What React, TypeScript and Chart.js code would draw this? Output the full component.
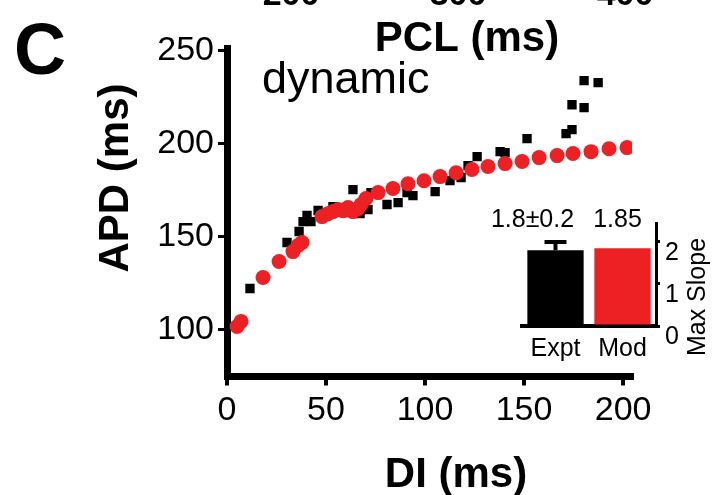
import React, { useEffect, useRef } from "react";
import { Chart, registerables } from "chart.js";

Chart.register(...registerables);

const FONT = "'Liberation Sans', Arial, Helvetica, sans-serif";
const RED = "rgb(237,32,36)";
const BLACK = "#000000";

// Model (red circles): DI (ms) vs APD (ms)
const modelDI = [5.1, 7.1, 18.2, 26.3, 33.3, 35.9, 37.9, 48.0, 51.0, 53.5, 56.1, 58.6, 61.1, 63.6, 66.2, 67.7, 70.2, 76.3, 83.8, 91.4, 99.5, 107.6, 115.7, 123.7, 131.8, 140.4, 149.0, 157.6, 166.7, 174.7, 183.8, 192.9, 202.0];
const modelAPD = [101.9, 104.6, 128.2, 136.8, 142.1, 145.4, 147.0, 160.9, 162.5, 163.6, 164.7, 164.1, 165.8, 163.6, 165.2, 167.4, 170.6, 173.8, 176.0, 178.6, 180.2, 182.4, 184.5, 186.2, 187.8, 189.4, 190.5, 192.6, 193.7, 194.8, 195.8, 197.4, 198.0];

// Experiment (black squares)
const exptDI = [11.6, 30.3, 36.4, 38.4, 40.4, 42.4, 46.0, 49.0, 53.5, 59.6, 63.6, 67.2, 71.2, 72.7, 80.8, 86.4, 90.9, 93.9, 105.1, 112.6, 118.2, 121.7, 126.3, 137.9, 140.4, 151.5, 171.2, 174.2, 174.2, 180.3, 180.3, 187.4];
const exptAPD = [122.3, 147.0, 152.9, 158.2, 161.5, 158.2, 164.2, 162.5, 166.3, 163.1, 175.4, 162.5, 164.7, 173.8, 167.4, 168.4, 173.8, 172.2, 174.3, 180.2, 181.9, 188.3, 193.1, 195.8, 195.3, 202.8, 205.5, 207.6, 221.0, 219.5, 234.0, 232.9];

const xTicks = [0, 50, 100, 150, 200];
const yTicks = [100, 150, 200, 250];
const xRange = [0, 204.5];
const yRange = [75, 251.5];
const topPanelTicks = ["200", "300", "400"];

// Inset: max slope
const slopeCategories = ["Expt", "Mod"];
const slopeValues = [1.8, 1.85];
const slopeErrors = [0.2, 0];
const slopeLabels = ["1.8±0.2", "1.85"];
const slopeTicks = [0, 1, 2];
const slopeRange = [0, 2.45];

const mainTextPlugin = {
  id: "mainText",
  afterDraw(chart: any) {
    const ctx = chart.ctx;
    ctx.save();
    ctx.fillStyle = "#000";
    ctx.textBaseline = "alphabetic";
    ctx.textAlign = "left";
    ctx.font = `bold 72px ${FONT}`;
    ctx.fillText("C", 14, 74);
    ctx.textAlign = "center";
    ctx.font = `bold 34px ${FONT}`;
    const topX = [291, 458, 625];
    topPanelTicks.forEach((t, i) => ctx.fillText(t, topX[i], 5));
    ctx.font = `bold 42px ${FONT}`;
    ctx.fillText("PCL (ms)", 467, 51);
    ctx.fillText("DI (ms)", 456, 487);
    ctx.textAlign = "left";
    ctx.font = `45px ${FONT}`;
    ctx.fillText("dynamic", 262, 93);
    ctx.translate(116, 178);
    ctx.rotate(-Math.PI / 2);
    ctx.textAlign = "center";
    ctx.textBaseline = "middle";
    ctx.font = `bold 42px ${FONT}`;
    ctx.fillText("APD (ms)", 0, 0);
    ctx.restore();
  },
};

const insetPlugin = {
  id: "insetExtras",
  afterDatasetsDraw(chart: any) {
    const ctx = chart.ctx;
    const meta = chart.getDatasetMeta(0);
    const ys = chart.scales.y;
    ctx.save();
    ctx.strokeStyle = "#000";
    ctx.lineWidth = 4;
    meta.data.forEach((bar: any, i: number) => {
      const err = slopeErrors[i];
      if (!err) return;
      const yTop = ys.getPixelForValue(slopeValues[i] + err);
      ctx.beginPath();
      ctx.moveTo(bar.x, bar.y);
      ctx.lineTo(bar.x, yTop);
      ctx.moveTo(bar.x - 11, yTop);
      ctx.lineTo(bar.x + 11, yTop);
      ctx.stroke();
    });
    ctx.fillStyle = "#000";
    ctx.font = `25px ${FONT}`;
    ctx.textAlign = "center";
    ctx.textBaseline = "alphabetic";
    const offs = [-23, -5];
    meta.data.forEach((bar: any, i: number) => {
      ctx.fillText(slopeLabels[i], bar.x + offs[i], chart.chartArea.top + 4);
    });
    ctx.translate(228, 117);
    ctx.rotate(-Math.PI / 2);
    ctx.textBaseline = "middle";
    ctx.fillText("Max Slope", 0, 0);
    ctx.restore();
  },
};

export default function App() {
  const mainRef = useRef<HTMLCanvasElement | null>(null);
  const insetRef = useRef<HTMLCanvasElement | null>(null);

  useEffect(() => {
    const main = new Chart(mainRef.current as HTMLCanvasElement, {
      type: "scatter",
      data: {
        datasets: [
          {
            label: "Mod",
            data: modelDI.map((x, i) => ({ x, y: modelAPD[i] })),
            pointStyle: "circle",
            pointRadius: 7.5,
            backgroundColor: RED,
            pointBackgroundColor: RED,
            borderWidth: 0,
            pointBorderWidth: 0,
            showLine: false,
          },
          {
            label: "Expt",
            data: exptDI.map((x, i) => ({ x, y: exptAPD[i] })),
            pointStyle: "rect",
            pointRadius: 6.6,
            backgroundColor: BLACK,
            pointBackgroundColor: BLACK,
            borderWidth: 0,
            pointBorderWidth: 0,
            showLine: false,
          },
        ],
      },
      options: {
        animation: false,
        responsive: false,
        events: [],
        layout: { padding: { left: 0, top: 48, right: 80, bottom: 0 } },
        plugins: { legend: { display: false }, tooltip: { enabled: false } },
        scales: {
          x: {
            type: "linear",
            position: "bottom",
            min: xRange[0],
            max: xRange[1],
            afterFit: (s: any) => {
              s.height = 118.5;
            },
            afterBuildTicks: (s: any) => {
              s.ticks = xTicks.map((v) => ({ value: v }));
            },
            grid: { drawOnChartArea: false, drawTicks: true, tickLength: 9, color: "#000", lineWidth: 4 },
            border: { display: true, color: "#000", width: 7 },
            ticks: { color: "#000", font: { family: FONT, size: 34 }, padding: 5, maxRotation: 0, autoSkip: false },
          },
          y: {
            type: "linear",
            position: "left",
            min: yRange[0],
            max: yRange[1],
            afterFit: (s: any) => {
              s.width = 227;
            },
            afterBuildTicks: (s: any) => {
              s.ticks = yTicks.map((v) => ({ value: v }));
            },
            grid: { drawOnChartArea: false, drawTicks: true, tickLength: 9, color: "#000", lineWidth: 3 },
            border: { display: true, color: "#000", width: 7 },
            ticks: { color: "#000", font: { family: FONT, size: 34 }, padding: 4, autoSkip: false },
          },
        },
      } as any,
      plugins: [mainTextPlugin],
    });

    const inset = new Chart(insetRef.current as HTMLCanvasElement, {
      type: "bar",
      data: {
        labels: slopeCategories,
        datasets: [
          {
            data: slopeValues,
            backgroundColor: [BLACK, RED],
            borderWidth: 0,
            barPercentage: 0.84,
            categoryPercentage: 1,
          },
        ],
      },
      options: {
        animation: false,
        responsive: false,
        events: [],
        layout: { padding: { left: 52, top: 43, right: 0, bottom: 0 } },
        plugins: { legend: { display: false }, tooltip: { enabled: false } },
        scales: {
          x: {
            type: "category",
            afterFit: (s: any) => {
              s.height = 54;
            },
            grid: { display: false, drawTicks: false },
            border: { display: true, color: "#000", width: 4 },
            ticks: { color: "#000", font: { family: FONT, size: 25 }, padding: 8 },
          },
          y: {
            type: "linear",
            position: "right",
            min: slopeRange[0],
            max: slopeRange[1],
            afterFit: (s: any) => {
              s.width = 56;
            },
            afterBuildTicks: (s: any) => {
              s.ticks = slopeTicks.map((v) => ({ value: v }));
            },
            grid: { drawOnChartArea: false, drawTicks: true, tickLength: 4, color: "#000", lineWidth: 3 },
            border: { display: true, color: "#000", width: 3 },
            ticks: { color: "#000", font: { family: FONT, size: 25 }, padding: 5, labelOffset: 11 },
          },
        },
      } as any,
      plugins: [insetPlugin],
    });

    return () => {
      main.destroy();
      inset.destroy();
    };
  }, []);

  return (
    <div style={{ position: "fixed", left: 0, top: 0, width: 712, height: 495, background: "#fff" }}>
      <canvas
        ref={mainRef}
        width={712}
        height={495}
        style={{ position: "absolute", left: 0, top: 0, width: 712, height: 495 }}
      />
      <canvas
        ref={insetRef}
        width={242}
        height={200}
        style={{ position: "absolute", left: 470, top: 180, width: 242, height: 200 }}
      />
    </div>
  );
}
